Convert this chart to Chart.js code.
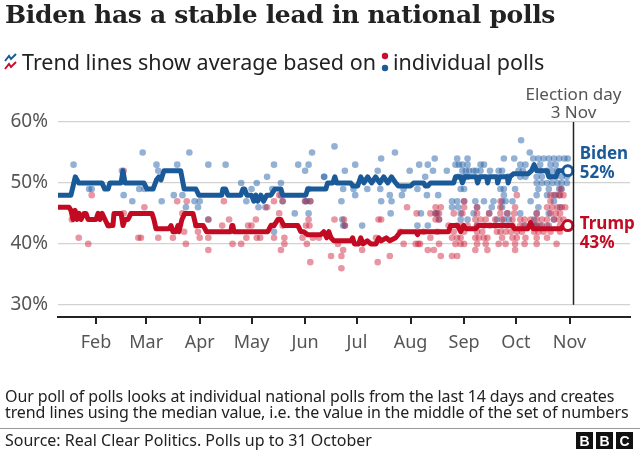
<!DOCTYPE html>
<html>
<head>
<meta charset="utf-8">
<script src="https://cdn.jsdelivr.net/npm/chart.js@4.4.1/dist/chart.umd.min.js"></script>
<style>
  html, body { margin: 0; padding: 0; background: #fff; }
  #wrap { position: relative; width: 640px; height: 450px; overflow: hidden; font-family: "Noto Sans", sans-serif; }
  #myChart { position: absolute; left: 0; top: 0; }
  .title { position: absolute; left: 5px; top: 0px; font-family: "DejaVu Serif", serif; font-size: 25px; font-weight: 600; color: #222; white-space: nowrap; letter-spacing: -0.3px; }
  .sub { position: absolute; left: 4px; top: 47px; font-size: 21.5px; color: #222; white-space: nowrap; display: flex; align-items: center; }
  .sub svg { margin-right: 4px; }
  .note { position: absolute; left: 5px; top: 388px; font-size: 16px; line-height: 16px; color: #222; white-space: nowrap; letter-spacing: -0.1px; }
  .rule { position: absolute; left: 0; top: 428px; width: 640px; height: 1px; background: #999; }
  .source { position: absolute; left: 5px; top: 429px; font-size: 16px; color: #222; white-space: nowrap; letter-spacing: 0px; }
  .bbc { position: absolute; right: 7px; top: 432px; display: flex; gap: 3px; }
  .bbc span { width: 17px; height: 17px; background: #111; color: #fff; font: bold 14px "Liberation Sans", sans-serif; display: flex; align-items: center; justify-content: center; }
</style>
</head>
<body>
<div id="wrap">
  <canvas id="myChart" width="640" height="450"></canvas>
  <div class="title">Biden has a stable lead in national polls</div>
  <div class="sub">
    <svg width="14" height="18" viewBox="0 0 14 18"><polyline points="1,8 5,3 7,6 12,1" fill="none" stroke="#1b5a98" stroke-width="2"/><polyline points="1,16 5,11 7,14 12,9" fill="none" stroke="#c8102e" stroke-width="2"/></svg>
    <span>Trend lines show average based on</span>
    <svg width="12" height="22" viewBox="0 0 12 22" style="margin:0 2px 0 3px"><circle cx="6" cy="5" r="3.2" fill="#c8102e"/><circle cx="6" cy="17" r="3.2" fill="#1b5a98"/></svg>
    <span>individual polls</span>
  </div>
  <div class="note">Our poll of polls looks at individual national polls from the last 14 days and creates<br>trend lines using the median value, i.e. the value in the middle of the set of numbers</div>
  <div class="rule"></div>
  <div class="source">Source: Real Clear Politics. Polls up to 31 October</div>
  <div class="bbc"><span>B</span><span>B</span><span>C</span></div>
</div>
<script>
// days are counted from 1 Jan 2020 (= 0)
const monthStarts = [31, 60, 91, 121, 152, 182, 213, 244, 274, 305];
const monthLabels = ['Feb', 'Mar', 'Apr', 'May', 'Jun', 'Jul', 'Aug', 'Sep', 'Oct', 'Nov'];
const yTicks = [30, 40, 50, 60];
const electionDay = 307;

// median trend lines [day, %]
const bidenTrend = [[9,48],[16.5,48],[19,51],[21,50],[34.5,50],[36,49],[38,49],[39,50],[45.5,50],[46.6,52],[47.8,50],[58.7,50],[60.5,49],[64,49],[66,50.5],[67.4,51],[68.6,50.5],[70.3,52],[80,52],[82,49],[88.8,49],[90.5,48],[103.8,48],[104.4,49],[106,49],[107.3,48],[114.8,48],[116,49],[117,49],[118.3,48],[121,48],[122.3,47],[123.5,48],[124.6,47],[126.4,48],[128,47],[129.8,48],[132.2,48],[134.5,49],[138,49],[139,48],[152.4,48],[153.5,49],[164,49],[165,50],[168,50],[169.2,51],[170.3,50],[178.4,50],[179.6,49.5],[182.4,49.5],[184.2,51],[186,50],[188.2,51],[190.5,50],[192.8,51],[195.2,50],[197.5,51],[199.8,50],[202,51],[204.4,50],[206,49.5],[213,49.5],[214.8,50],[220.6,50],[221.5,49.5],[223,49.5],[224.6,50],[238,50],[239,51],[242,51],[243,50],[244.3,51],[251,51],[251.8,50],[253,51],[257,51],[257.6,50],[258.5,51],[263,51],[263.4,50],[264.5,51],[269,51],[269.5,50],[270.5,51],[272.5,51.5],[281,51.5],[283,52],[284.5,53],[286,52],[292,52],[293,51],[297,51],[298.6,52],[304,52]];
const trumpTrend = [[9,46],[15.4,46],[16.5,45.5],[17.7,44],[18.9,45.5],[20,44],[21.2,45],[22.3,44],[24.1,45],[25.2,45],[26.4,44],[31,44],[32.2,45],[33.3,44],[34.5,45],[35,45],[36.2,44],[37.9,43],[40.8,43],[41.4,45],[45.5,45],[46.6,43],[47.8,44],[49.5,44],[51.2,45],[63.4,45],[64.5,44],[65.7,42.5],[73.2,42.5],[74.4,43],[75.5,42],[77.2,42],[78.4,43],[79,42],[80.7,44],[82.4,45],[87.1,45],[88.8,43],[93,43],[95,42],[109,42],[109.6,43],[110.2,43],[110.8,42],[130.4,42],[132.2,43],[134,43],[136.2,44],[137.9,44],[139.7,43],[147.8,43],[149.5,42],[151.2,42],[153.5,41.5],[161,41.5],[162.8,42],[164.5,41],[165.7,42],[167,41],[168.6,40.5],[178.4,40.5],[179.5,41],[180.5,40],[183,40],[184.2,41],[185.5,40],[188,40.5],[190,40],[193,40],[194.6,41],[196,40.5],[199,41],[201,40.5],[204.4,41],[207.3,42],[216,42],[217.1,41.5],[218,42],[235,42],[236.2,43],[240.2,43],[242,42],[243.7,43],[245,42.5],[250.7,42.5],[252.4,43],[272,43],[273,42.5],[281,42.5],[282.5,43.5],[284,42.5],[300,42.5],[301.5,43],[304,43]];

// individual polls [day, %]
const bidenPolls = [[18,53],[58,55],[85,55],[66,53],[78,53],[96,53],[106,53],[134,53],[148,53],[154,53],[156,55],[67,52],[46,52],[152,52],[163,51],[130,51],[27,49],[28.5,49],[56,49],[59,49],[47,48],[52,47],[69,47],[76,48],[81,48],[83,46],[88,47],[91,47],[90,46],[115,50],[121,49],[124,50],[118,47],[125,46],[138,48],[138,50],[139,47],[146,45],[154,45],[153,47],[152,47],[155,47],[96,44],[134,42],[133,49],[154,49],[129,46],[173,47],[175,52],[175,43],
  [277,57],[169,56],[204,55],[282,55],
  [196,54],[227,54],[240,54],[246,54],[267,54],[273,54],[284,54],[287,54],[290,54],[293,54],[296,54],[299,54],[302,54],[304,54],
  [181,53],[218,53],[223,53],[239,53],[241,53],[243,53],[246,53],[253.5,53],[255.5,53],[276.5,53],[279.5,53],[288,53],[294,53],[297,53],
  [194,52],[212.5,52],[226,52],[234,52],[243,52],[245,52],[247,52],[249.5,52],[251,52],[253.5,52],[259,52],[264,52],[266,52],[275.5,52],[278,52],[288,52],[292,52],[295,52],[298,52],
  [163,51],[221.5,51],[240.5,51],[244,51],[246,51],[269,51],[270,51],[276.5,51],[279.5,51],[286,51],[289,51],[294,51],[297,51],[300.5,51],[303.5,51],
  [286,50],[289,50],[292,50],[295,50],[298,50],[300.5,50],[303.5,50],
  [174,49],[180,49],[188,49],[195.5,49],[209,49],[217,49],[242,49],[244,49],[265,49],[267,49],[273.5,49],[287,49],[293,49],[299,49],[300.5,49],
  [181,48],[201,48],[208,48],[222.5,48],[229,48],[267,48],[286,48],[292,48],[296,48],[299,48],
  [196,47],[202,47],[237,47],[240,47],[244,47],[250.5,47],[255.5,47],[261,47],[266,47],[268,47],[272,47],[282.5,47],[296,47],
  [237,46],[240.5,46],[251.5,46],[260,46],[266,46],[287,46],[299.5,46],
  [201.5,45],[219,45],[227.5,45],[228.5,45],[242,45],[249.5,45],[258.5,45],[269,45],[276.5,45],[286,45],[293,45],
  [173.5,44],[229.5,44],[242,44],[246,44],[263,44],[267,44],[270,44],[284.5,44],[296,44],
  [174,43],[185,43],[217,43],[223,43],[251.5,43],[278.5,43],[284.5,43],[286,43],[289,43],[293,43]];
const trumpPolls = [[28.5,48],[47,52],[78,47],[83.5,47],[105,47],[17,44],[38.5,43],[59,46],[81,45],[89,43],[47,45],[96,44],[108,44],[104,43],[119,43],[130,46],[134,47],[137,48],[123.5,44],[152.5,43],[154.5,43],[152,47],[155,47],
  [21,41],[26.5,40],[55.5,41],[57,41],[67,41],[75.5,41],[83,40],[82,42],[90,42],[91,41],[96,41],[96,39],[110,40],[115,40],[118,41],[124,41],[126,41],[134,41],[137,45],[139,43],[138,39],[140,40],[150.5,41],[153,40],[155,37],[156.5,41],[160,41],
  [139,47],[154,44],[121,43],[133,43],[140,41],[171,40],[175,43],
  [211,46],[227.5,46],[230.5,46],[244,46],[251.5,46],[265,46],[273.5,46],[292,46],[295,46],[298,46],[300.5,46],[302.5,46],
  [216.5,45],[224.5,45],[227.5,45],[229.5,45],[238,45],[243,45],[251.5,45],[258.5,45],[265,45],[269,45],[273,45],[286,45],[294,45],[297,45],[299.5,45],
  [169,44],[174.5,44],[194.5,44],[196,44],[227.5,44],[229.5,44],[250.5,44],[253.5,44],[256.5,44],[262,44],[266,44],[272,44],[276.5,44],[279,44],[282.5,44],[286,44],[289,44],[292,44],[296,44],[299,44],[301.5,44],
  [235,43],[240,43],[243,43],[246,43],[251.5,43],[255.5,43],[259,43],[262,43],[266,43],[269,43],[272,43],[276.5,43],[279.5,43],[282.5,43],[285.5,43],[288,43],[292,43],[299.5,43],
  [207,42],[217,42],[220.5,42],[228.5,42],[238,42],[244,42],[251.5,42],[254.5,42],[263,42],[265,42],[268,42],[271,42],[274.5,42],[277.5,42],[284.5,42],[287,42],[290,42],[294,42],[299.5,42],
  [193,41],[224.5,41],[237,41],[240,41],[242,41],[250.5,41],[252.5,41],[255.5,41],[257.5,41],[266,41],[272,41],[274.5,41],[279.5,41],[286,41],[292,41],
  [209,40],[216,40],[217.5,40],[218.5,40],[229.5,40],[239,40],[242,40],[244,40],[251.5,40],[256.5,40],[264,40],[268,40],[273.5,40],[279,40],[286,40],[297.5,40],
  [174,39],[185,39],[223,39],[226.5,39],[250.5,39],[257.5,39],[273.5,39],
  [167,38],[173,38],[201,38],[230.5,38],[237,38],[240,38],
  [194,37],[173,36],
  [274.5,48],[294,48],[297,48],[299.5,48],[301.5,48],[244,47],[265,47],[294,47],[300,49]];

const blue = '#1a5a99';
const red = '#c20a22';
const toXY = arr => arr.map(([x, y]) => ({ x, y }));
const lastOnly = (n, r) => ctx => (ctx.dataIndex === n - 1 ? r : 0);

const electionLine = {
  id: 'electionLine',
  afterDatasetsDraw(chart) {
    const { ctx, scales: { x, y } } = chart;
    const ex = Math.round(x.getPixelForValue(electionDay)) + 0.5;
    ctx.save();
    ctx.strokeStyle = '#222';
    ctx.lineWidth = 1.5;
    ctx.beginPath();
    ctx.moveTo(ex, y.getPixelForValue(60));
    ctx.lineTo(ex, y.getPixelForValue(30));
    ctx.stroke();

    ctx.fillStyle = '#555';
    ctx.font = '17px "Noto Sans"';
    ctx.textAlign = 'center';
    ctx.textBaseline = 'middle';
    ctx.fillText('Election day', ex, 95);
    ctx.fillText('3 Nov', ex, 113);

    // end labels
    const lx = x.getPixelForValue(304) + 12;
    ctx.textAlign = 'left';
    ctx.font = 'bold 17px "Noto Sans"';
    const bEnd = bidenTrend[bidenTrend.length - 1][1];
    const tEnd = trumpTrend[trumpTrend.length - 1][1];
    ctx.fillStyle = blue;
    ctx.fillText('Biden', lx, y.getPixelForValue(bEnd) - 17);
    ctx.fillText(bEnd + '%', lx, y.getPixelForValue(bEnd) + 2);
    ctx.fillStyle = red;
    ctx.fillText('Trump', lx, y.getPixelForValue(tEnd) - 1);
    ctx.fillText(tEnd + '%', lx, y.getPixelForValue(tEnd) + 18);
    ctx.restore();
  }
};

const config = {
  data: {
    datasets: [
      { type: 'line', label: 'Biden', data: toXY(bidenTrend), borderColor: blue, borderWidth: 5, borderJoinStyle: 'round', borderCapStyle: 'round',
        pointRadius: lastOnly(bidenTrend.length, 5), pointBackgroundColor: '#fff', pointBorderColor: blue, pointBorderWidth: 3, order: 0 },
      { type: 'line', label: 'Trump', data: toXY(trumpTrend), borderColor: red, borderWidth: 5, borderJoinStyle: 'round', borderCapStyle: 'round',
        pointRadius: lastOnly(trumpTrend.length, 5), pointBackgroundColor: '#fff', pointBorderColor: red, pointBorderWidth: 3, order: 0 },
      { type: 'scatter', label: 'Biden polls', data: toXY(bidenPolls), backgroundColor: 'rgba(40,100,170,0.5)', borderWidth: 0, pointRadius: 3.3, order: 2 },
      { type: 'scatter', label: 'Trump polls', data: toXY(trumpPolls), backgroundColor: 'rgba(205,35,60,0.48)', borderWidth: 0, pointRadius: 3.3, order: 1 }
    ]
  },
  options: {
    responsive: false,
    animation: false,
    layout: { padding: { left: 0, top: 122, right: 10, bottom: 88 } },
    plugins: { legend: { display: false }, tooltip: { enabled: false } },
    scales: {
      x: {
        type: 'linear', min: 9, max: 340,
        afterBuildTicks: s => { s.ticks = monthStarts.map(v => ({ value: v })); },
        afterFit: s => { s.height = 45; },
        grid: { drawOnChartArea: false, color: '#222', lineWidth: 2, tickLength: 7 },
        border: { display: true, color: '#222', width: 2 },
        ticks: { callback: v => monthLabels[monthStarts.indexOf(v)], font: { family: 'Noto Sans', size: 18 }, color: '#555', padding: 8, maxRotation: 0 }
      },
      y: {
        min: 28, max: 60,
        afterBuildTicks: s => { s.ticks = yTicks.map(v => ({ value: v })); },
        afterFit: s => { s.width = 58; },
        grid: { color: '#d2d2d2', lineWidth: 1.2, drawTicks: false },
        border: { display: false },
        ticks: { callback: v => v + '%', font: { family: 'Noto Sans', size: 19 }, color: '#555', padding: 10 }
      }
    }
  },
  plugins: [electionLine]
};

const myChart = new Chart(document.getElementById('myChart'), config);
</script>
</body>
</html>
